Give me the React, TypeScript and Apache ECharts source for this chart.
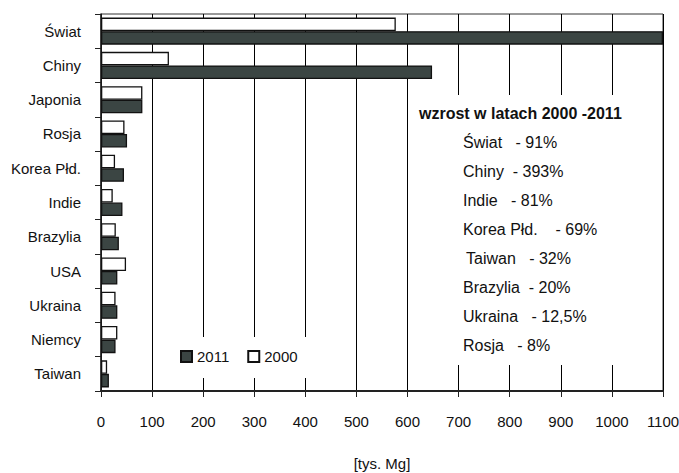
import React, { useEffect, useRef } from "react";
import * as echarts from "echarts";

const categories = ["Świat", "Chiny", "Japonia", "Rosja", "Korea Płd.", "Indie", "Brazylia", "USA", "Ukraina", "Niemcy", "Taiwan"];
const values2000 = [577, 133, 81, 46, 27.5, 23, 29, 49, 28.5, 32, 12];
const values2011 = [1100, 648, 81, 51, 45, 42, 35, 32, 32, 28.5, 15.5];
const seriesNames = ["2011", "2000"];
const xTicks = { min: 0, max: 1100, interval: 100 };

const growthTitle = "wzrost w latach 2000 -2011";
const growthNames = ["Świat", "Chiny", "Indie", "Korea Płd.", "Taiwan", "Brazylia", "Ukraina", "Rosja"];
const growthValues = ["91%", "393%", "81%", "69%", "32%", "20%", "12,5%", "8%"];
const growthSpaces = [3, 2, 3, 4, 3, 2, 3, 3];

const FONT = '"Liberation Sans", Arial, sans-serif';
const DARK = "#3b4543";

export default function App() {
  const ref = useRef<HTMLDivElement>(null);
  useEffect(() => {
    if (!ref.current) return;
    const chart = echarts.init(ref.current, undefined, { renderer: "svg" });
    const items: any[] = growthNames.map((n, i) => ({
      type: "text",
      x: n === "Taiwan" ? 466 : 463,
      y: 142.7 + i * 28.9,
      z: 101,
      style: {
        text: n + " ".repeat(growthSpaces[i]) + "- " + growthValues[i],
        font: `16px ${FONT}`,
        fill: "#111",
        verticalAlign: "middle",
      },
    }));
    chart.setOption({
      animation: false,
      backgroundColor: "#fff",
      textStyle: { fontFamily: FONT },
      grid: {
        left: 101,
        right: 16,
        top: 14,
        bottom: 82,
        show: true,
        borderColor: "#333",
        borderWidth: 1,
        containLabel: false,
        outerBoundsMode: "none",
      },
      legend: {
        data: seriesNames,
        left: 168,
        top: 337,
        padding: [12, 10, 14, 12],
        backgroundColor: "#fff",
        itemWidth: 11,
        itemHeight: 11,
        itemGap: 18,
        icon: "rect",
        textStyle: { fontSize: 15, color: "#111", fontFamily: FONT },
      },
      xAxis: {
        type: "value",
        min: xTicks.min,
        max: xTicks.max,
        interval: xTicks.interval,
        name: "[tys. Mg]",
        nameLocation: "middle",
        nameGap: 65,
        nameTextStyle: { fontSize: 15, color: "#111", fontFamily: FONT },
        axisLine: { show: true, lineStyle: { color: "#222", width: 2 } },
        axisTick: { show: true, length: 6, lineStyle: { color: "#222", width: 1 } },
        axisLabel: {
          fontSize: 15,
          color: "#111",
          margin: 23,
          fontFamily: FONT,
          formatter: (v: number) => String(v),
        },
        splitLine: { show: true, lineStyle: { color: "#000", width: 1 } },
      },
      yAxis: {
        type: "category",
        data: categories,
        inverse: true,
        axisLine: { show: true, lineStyle: { color: "#222", width: 1.5 } },
        axisTick: { show: true, length: 6, lineStyle: { color: "#222", width: 1 } },
        axisLabel: { fontSize: 15, color: "#111", margin: 20, fontFamily: FONT, padding: [0, 0, 4, 0] },
      },
      series: [
        {
          name: "2000",
          type: "bar",
          data: values2000,
          barGap: "0%",
          barCategoryGap: "21%",
          itemStyle: { color: "#fff", borderColor: "#111", borderWidth: 1.3 },
        },
        {
          name: "2011",
          type: "bar",
          data: values2011,
          barGap: "0%",
          barCategoryGap: "21%",
          itemStyle: { color: DARK, borderColor: "#111", borderWidth: 1.3 },
        },
      ],
      graphic: {
        elements: [
          { type: "rect", shape: { x: 411, y: 95, width: 249, height: 270 }, style: { fill: "#fff" }, z: 100 },
          {
            type: "text",
            x: 419,
            y: 113,
            z: 101,
            style: { text: growthTitle, font: `bold 16px ${FONT}`, fill: "#111", verticalAlign: "middle" },
          },
          ...items,
        ],
      },
    });
    return () => chart.dispose();
  }, []);
  return <div ref={ref} style={{ position: "absolute", left: 0, top: 0, width: 679, height: 473 }} />;
}
